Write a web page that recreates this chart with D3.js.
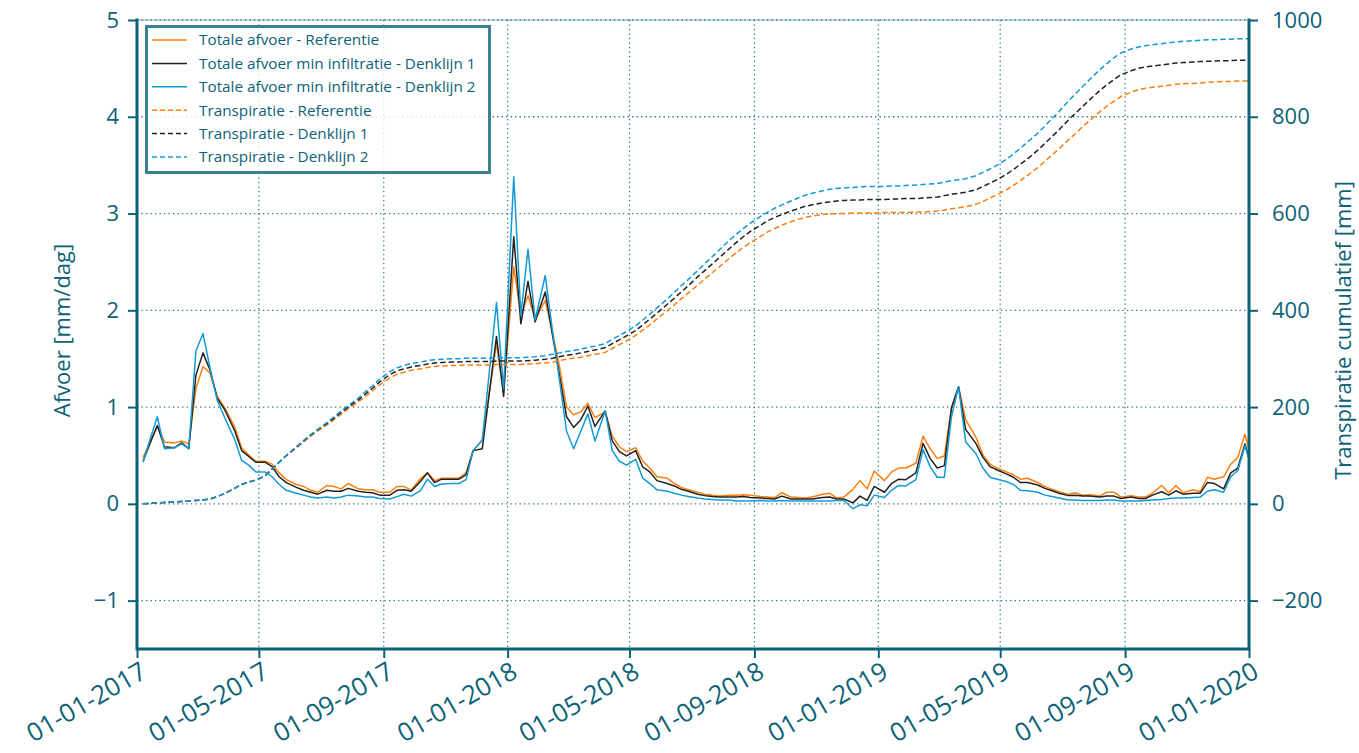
<!DOCTYPE html>
<html>
<head>
<meta charset="utf-8">
<script src="https://cdn.jsdelivr.net/npm/d3@7"></script>
<style>
  html, body { margin: 0; padding: 0; background: #ffffff; }
  svg { display: block; font-family: "Open Sans", "Noto Sans", sans-serif; }
</style>
</head>
<body>
<svg id="chart" width="1359" height="753"></svg>
<script>
// ---------- DATA ----------
// Sample dates: the 7th, 14th, 21st and 28th of every month, 2017-2019 (+ first point of 2020)
const sampleDays = [7, 14, 21, 28];
const years = [2017, 2018, 2019];
const extraDates = ["2020-01-07"];

const afvoerReferentie = [
  0.48,0.64,0.80,0.64, 0.63,0.65,0.62,1.19, 1.42,1.35,1.11,1.00, 0.80,0.58,0.505,0.44,
  0.44,0.41,0.32,0.25, 0.20,0.18,0.14,0.12, 0.19,0.18,0.155,0.21, 0.155,0.145,0.145,0.12,
  0.12,0.18,0.18,0.14, 0.26,0.32,0.24,0.265, 0.265,0.265,0.32,0.55, 0.66,1.16,1.66,1.15,
  2.45,1.95,2.15,1.91, 2.10,1.78,1.42,1.00, 0.92,0.95,1.04,0.89, 0.95,0.70,0.59,0.54,
  0.58,0.44,0.37,0.28, 0.265,0.21,0.17,0.145, 0.12,0.10,0.09,0.08, 0.09,0.09,0.095,0.09,
  0.075,0.07,0.065,0.115, 0.07,0.065,0.06,0.07, 0.10,0.11,0.06,0.07, 0.15,0.24,0.155,0.34,
  0.24,0.33,0.37,0.37, 0.42,0.70,0.57,0.47, 0.495,0.99,1.21,0.87, 0.69,0.505,0.41,0.37,
  0.33,0.30,0.255,0.265, 0.22,0.18,0.15,0.125, 0.10,0.115,0.09,0.095, 0.08,0.12,0.12,0.07,
  0.085,0.07,0.07,0.11, 0.19,0.115,0.19,0.115, 0.145,0.125,0.275,0.255, 0.28,0.41,0.48,0.72,
  0.30
];
const afvoerDenklijn1 = [
  0.44,0.63,0.81,0.59, 0.58,0.63,0.57,1.33, 1.56,1.38,1.09,0.98, 0.76,0.55,0.49,0.43,
  0.43,0.385,0.28,0.22, 0.17,0.14,0.12,0.10, 0.14,0.13,0.13,0.16, 0.13,0.12,0.115,0.09,
  0.09,0.14,0.145,0.13, 0.23,0.32,0.22,0.255, 0.255,0.255,0.30,0.55, 0.57,1.15,1.73,1.11,
  2.76,1.86,2.30,1.88, 2.19,1.75,1.33,0.90, 0.79,0.87,1.01,0.80, 0.96,0.65,0.54,0.495,
  0.55,0.38,0.33,0.24, 0.21,0.185,0.15,0.13, 0.10,0.085,0.075,0.07, 0.07,0.07,0.075,0.065,
  0.06,0.055,0.05,0.08, 0.05,0.05,0.05,0.05, 0.065,0.07,0.05,0.05, 0.01,0.08,0.035,0.18,
  0.12,0.21,0.255,0.25, 0.32,0.625,0.47,0.37, 0.395,0.99,1.21,0.77, 0.625,0.48,0.385,0.35,
  0.31,0.275,0.22,0.22, 0.195,0.16,0.135,0.11, 0.085,0.09,0.08,0.08, 0.07,0.08,0.08,0.055,
  0.07,0.055,0.055,0.09, 0.125,0.09,0.135,0.10, 0.11,0.11,0.22,0.21, 0.155,0.32,0.37,0.62,
  0.25
];
const afvoerDenklijn2 = [
  0.43,0.67,0.90,0.57, 0.58,0.62,0.57,1.58, 1.76,1.40,1.07,0.90, 0.67,0.45,0.40,0.33,
  0.33,0.28,0.20,0.14, 0.11,0.09,0.07,0.06, 0.07,0.06,0.07,0.09, 0.08,0.07,0.07,0.055,
  0.05,0.075,0.10,0.08, 0.135,0.255,0.18,0.205, 0.21,0.21,0.25,0.55, 0.66,1.37,2.08,1.19,
  3.38,1.95,2.63,1.90, 2.36,1.80,1.28,0.75, 0.57,0.75,0.93,0.65, 0.96,0.55,0.44,0.40,
  0.46,0.265,0.21,0.145, 0.13,0.11,0.09,0.075, 0.06,0.05,0.045,0.04, 0.04,0.03,0.03,0.03,
  0.035,0.03,0.03,0.035, 0.03,0.03,0.03,0.03, 0.03,0.03,0.035,0.035, -0.05,-0.01,-0.02,0.09,
  0.065,0.14,0.19,0.185, 0.25,0.56,0.385,0.275, 0.275,0.90,1.21,0.64, 0.52,0.37,0.275,0.255,
  0.23,0.20,0.14,0.135, 0.12,0.09,0.075,0.06, 0.04,0.04,0.035,0.035, 0.035,0.04,0.04,0.03,
  0.03,0.03,0.035,0.04, 0.045,0.055,0.06,0.06, 0.065,0.07,0.13,0.145, 0.12,0.28,0.345,0.60,
  0.25
];
const transpiratieReferentie = [
  0,1,2,3, 4,5,6,7, 8,10,15,21, 32,40,45,49,
  58,72,86,99, 116,128,140,151, 163,174,185,196, 211,222,234,246,
  260,268,272,276, 279,282,284,285, 286,286,287,287, 287,287,288,288,
  288,288,289,290, 291,293,296,299, 301,303,306,309, 313,321,329,337,
  348,359,370,382, 399,411,424,436, 452,465,477,489, 507,519,530,540,
  553,562,569,576, 583,588,592,595, 598,599,600,600, 601,601,601,601,
  602,602,602,602, 603,603,604,605, 607,610,612,614, 619,625,632,639,
  649,658,668,679, 695,708,721,734, 752,765,779,792, 810,822,832,842,
  851,856,859,861, 863,865,867,868, 869,870,871,872, 873,873,874,874,
  875
];
const transpiratieDenklijn1 = [
  0,1,2,3, 4,5,6,7, 8,10,15,21, 32,40,45,49,
  58,72,86,100, 117,130,142,153, 166,177,189,200, 215,227,239,252,
  267,275,279,283, 286,289,291,292, 293,293,294,294, 294,294,295,295,
  295,295,296,297, 299,301,304,307, 309,312,315,318, 323,331,339,347,
  358,370,382,394, 412,425,438,451, 469,482,495,508, 527,540,552,563,
  576,585,592,598, 605,610,615,618, 622,624,626,627, 628,628,629,629,
  629,630,630,631, 631,632,633,634, 637,640,642,644, 649,656,663,670,
  681,691,702,713, 731,745,759,773, 793,807,821,835, 854,866,877,887,
  895,900,903,905, 907,909,911,912, 913,914,915,915, 916,916,917,917,
  918
];
const transpiratieDenklijn2 = [
  0,1,2,3, 4,5,6,7, 8,10,15,21, 32,40,45,49,
  58,72,86,100, 118,131,143,154, 168,180,192,203, 219,232,244,258,
  273,281,286,290, 293,296,298,299, 300,300,301,301, 301,301,302,302,
  302,302,303,304, 306,309,312,315, 317,320,323,326, 331,340,348,356,
  368,380,392,405, 423,437,451,464, 482,496,510,524, 544,557,569,580,
  594,603,611,618, 626,632,638,642, 647,650,652,653, 654,655,656,656,
  656,657,657,658, 659,660,661,662, 665,668,670,672, 678,685,692,700,
  712,723,735,748, 766,781,796,811, 832,847,862,877, 897,910,922,932,
  940,944,947,949, 951,953,955,956, 957,958,959,959, 960,960,961,961,
  962
];

const xTickDates = ["2017-01-01","2017-05-01","2017-09-01","2018-01-01","2018-05-01",
                    "2018-09-01","2019-01-01","2019-05-01","2019-09-01","2020-01-01"];
const leftTicks = [-1, 0, 1, 2, 3, 4, 5];
const rightTicks = [-200, 0, 200, 400, 600, 800, 1000];

const seriesNames = [
  "Totale afvoer - Referentie",
  "Totale afvoer min infiltratie - Denklijn 1",
  "Totale afvoer min infiltratie - Denklijn 2",
  "Transpiratie - Referentie",
  "Transpiratie - Denklijn 1",
  "Transpiratie - Denklijn 2"
];

// ---------- BUILD ----------
const parse = d3.utcParse("%Y-%m-%d");
const dates = [];
years.forEach(y => { for (let mo = 0; mo < 12; mo++) sampleDays.forEach(d => dates.push(new Date(Date.UTC(y, mo, d)))); });
extraDates.forEach(s => dates.push(parse(s)));

const C = { orange: "#ff7f0e", black: "#222222", blue: "#139ad6", axis: "#0d6277", grid: "#2a7688", legend: "#3b8291" };

const m = { left: 137, right: 1249, top: 20, bottom: 649 };

const svg = d3.select("#chart");
const x = d3.scaleUtc().domain([parse("2017-01-01"), parse("2020-01-01")]).range([m.left, m.right]);
const yL = d3.scaleLinear().domain([-1.5, 5]).range([m.bottom, m.top]);
const yR = d3.scaleLinear().domain([-300, 1000]).range([m.bottom, m.top]);

svg.append("defs").append("clipPath").attr("id", "clip")
  .append("rect").attr("x", m.left).attr("y", m.top).attr("width", m.right - m.left).attr("height", m.bottom - m.top);

// gridlines
const grid = svg.append("g");
xTickDates.forEach(s => {
  const xx = x(parse(s));
  grid.append("line").attr("x1", xx).attr("x2", xx).attr("y1", m.top).attr("y2", m.bottom)
    .attr("stroke", C.grid).attr("stroke-width", 1.3).attr("stroke-dasharray", "1.3,3.2");
});
leftTicks.forEach(v => {
  grid.append("line").attr("x1", m.left).attr("x2", m.right).attr("y1", yL(v)).attr("y2", yL(v))
    .attr("stroke", C.grid).attr("stroke-width", 1.3).attr("stroke-dasharray", "1.3,3.2");
});

// lines
const plot = svg.append("g").attr("clip-path", "url(#clip)");
const lineL = vals => d3.line().x((d, i) => x(dates[i])).y(d => yL(d))(vals);
const lineR = vals => d3.line().x((d, i) => x(dates[i])).y(d => yR(d))(vals);

const solid = [[afvoerReferentie, C.orange], [afvoerDenklijn1, C.black], [afvoerDenklijn2, C.blue]];
solid.forEach(([v, c]) => plot.append("path").attr("d", lineL(v)).attr("fill", "none")
  .attr("stroke", c).attr("stroke-width", 1.5).attr("stroke-linejoin", "round"));
const dashed = [[transpiratieReferentie, C.orange], [transpiratieDenklijn1, C.black], [transpiratieDenklijn2, C.blue]];
dashed.forEach(([v, c]) => plot.append("path").attr("d", lineR(v)).attr("fill", "none")
  .attr("stroke", c).attr("stroke-width", 1.5).attr("stroke-dasharray", "5.5,3"));

// axes
function styleAxis(g, size) {
  g.selectAll(".domain").remove();
  g.selectAll(".tick line").attr("stroke", C.axis).attr("stroke-width", 2);
  g.selectAll(".tick text").attr("fill", C.axis).style("font-size", size)
    .style("font-family", "'Open Sans', 'Noto Sans', sans-serif");
}
const gL = svg.append("g").attr("transform", `translate(${m.left},0)`)
  .call(d3.axisLeft(yL).tickValues(leftTicks).tickSize(9).tickPadding(9).tickFormat(d3.format("d")));
styleAxis(gL, "22px");
gL.selectAll(".tick text").text(d => d < 0 ? "\u2212" + Math.abs(d) : d);

const gR = svg.append("g").attr("transform", `translate(${m.right},0)`)
  .call(d3.axisRight(yR).tickValues(rightTicks).tickSize(9).tickPadding(14));
styleAxis(gR, "22px");
gR.selectAll(".tick text").text(d => d < 0 ? "\u2212" + Math.abs(d) : d);

const gB = svg.append("g").attr("transform", `translate(0,${m.bottom})`)
  .call(d3.axisBottom(x).tickValues(xTickDates.map(parse)).tickSize(9).tickFormat(d3.utcFormat("%d-%m-%Y")));
styleAxis(gB, "25.5px");
gB.selectAll(".tick text").attr("text-anchor", "end").attr("dy", "0")
  .attr("transform", "translate(5,17) rotate(-30)");

// spines
const sp = svg.append("g").attr("stroke", C.axis).attr("stroke-width", 3).attr("fill", "none");
sp.append("line").attr("x1", m.left).attr("x2", m.left).attr("y1", m.top - 1.5).attr("y2", m.bottom + 1.5);
sp.append("line").attr("x1", m.right).attr("x2", m.right).attr("y1", m.top - 1.5).attr("y2", m.bottom + 1.5);
sp.append("line").attr("x1", m.left).attr("x2", m.right).attr("y1", m.bottom).attr("y2", m.bottom);
svg.append("line").attr("x1", m.left).attr("x2", m.right).attr("y1", m.top).attr("y2", m.top)
  .attr("stroke", C.legend).attr("stroke-width", 1).attr("opacity", 0.6);

// axis titles
svg.append("text").attr("transform", `translate(70,${(m.top + m.bottom) / 2 - 4}) rotate(-90)`)
  .attr("text-anchor", "middle").attr("fill", C.axis).style("font-size", "22px").text("Afvoer [mm/dag]");
svg.append("text").attr("transform", `translate(1351,${(m.top + m.bottom) / 2 - 4}) rotate(-90)`)
  .attr("text-anchor", "middle").attr("fill", C.axis).style("font-size", "22px").text("Transpiratie cumulatief [mm]");

// legend
const lg = svg.append("g");
lg.append("rect").attr("x", 146.5).attr("y", 26.5).attr("width", 343).attr("height", 146)
  .attr("fill", "#ffffff").attr("fill-opacity", 0.82).attr("stroke", C.legend).attr("stroke-width", 3);
const lcolors = [C.orange, C.black, C.blue, C.orange, C.black, C.blue];
seriesNames.forEach((name, i) => {
  const yy = 40 + i * 23.4;
  lg.append("line").attr("x1", 152).attr("x2", 187).attr("y1", yy).attr("y2", yy)
    .attr("stroke", lcolors[i]).attr("stroke-width", 1.5)
    .attr("stroke-dasharray", i >= 3 ? "5,3" : null);
  lg.append("text").attr("x", 199).attr("y", yy).attr("dy", "0.35em").attr("fill", C.axis)
    .style("font-size", "15.3px").text(name);
});
</script>
</body>
</html>
